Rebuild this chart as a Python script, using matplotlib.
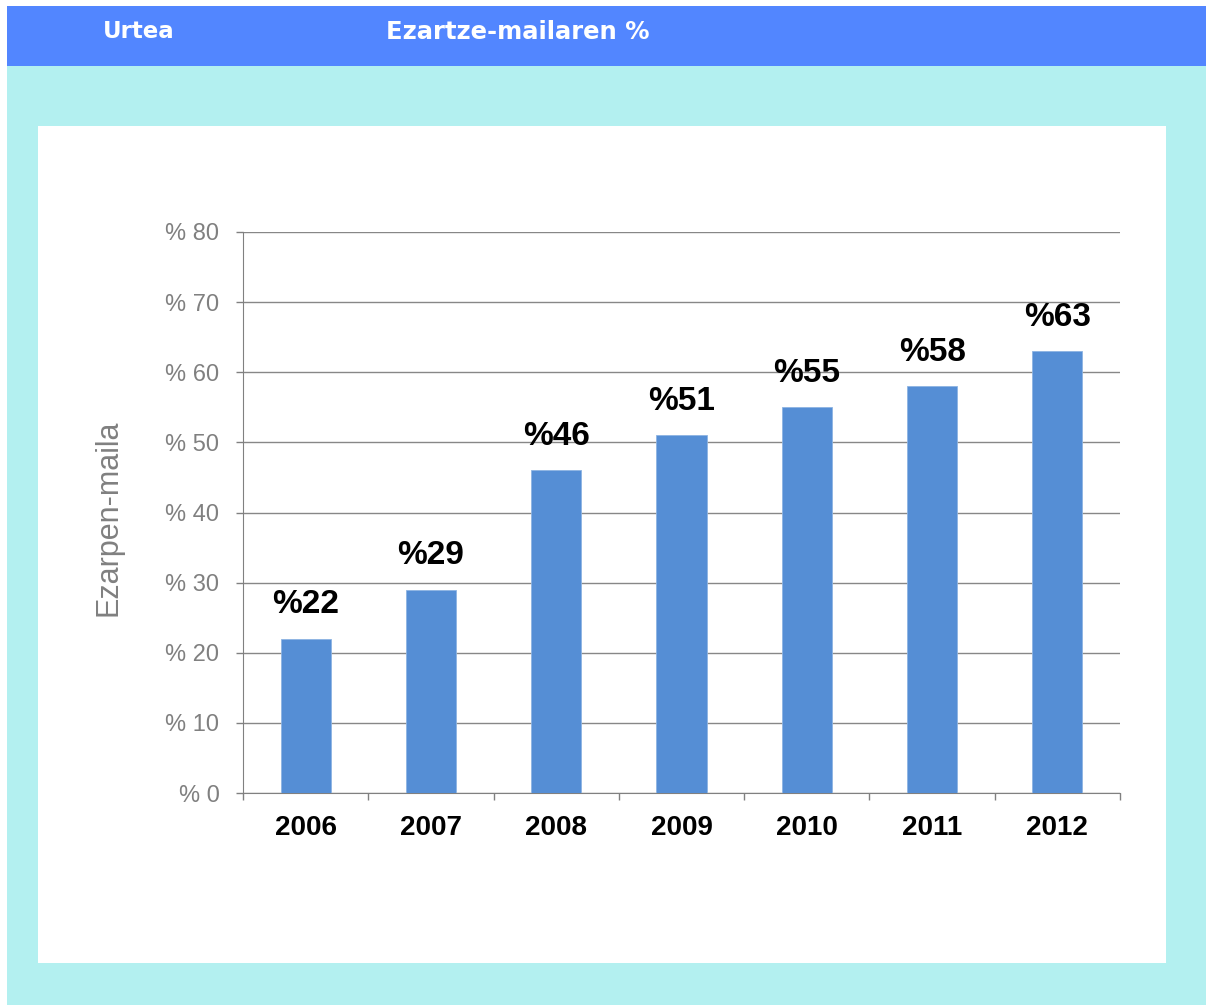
import matplotlib
matplotlib.use("Agg")
import matplotlib.pyplot as plt
from matplotlib.patches import Rectangle

years = ["2006", "2007", "2008", "2009", "2010", "2011", "2012"]
rates = [22, 29, 46, 51, 55, 58, 63]
yticks = [0, 10, 20, 30, 40, 50, 60, 70, 80]
header = ["Urtea", "Ezartze-mailaren %"]

W, H = 1206, 1007
fig = plt.figure(figsize=(W / 100, H / 100), dpi=100)
fig.patch.set_facecolor("white")

def box(x0, y0, x1, y1, color):
    # pixel box (top-left origin) -> figure fraction
    fig.patches.append(Rectangle((x0 / W, 1 - y1 / H), (x1 - x0) / W, (y1 - y0) / H,
                                 transform=fig.transFigure, facecolor=color,
                                 edgecolor="none", zorder=-1))

box(7, 66, 1206, 1005, "#B3F0F0")
box(7, 6, 1206, 66, "#5286FF")
box(38, 126, 1166, 963, "white")

fig.text(103 / W, 1 - 32 / H, header[0], color="white", fontsize=16.5,
         fontweight="bold", family="DejaVu Sans", va="center", ha="left")
fig.text(386 / W, 1 - 32 / H, header[1], color="white", fontsize=17.5,
         fontweight="bold", family="DejaVu Sans", va="center", ha="left")

ax = fig.add_axes([243 / W, 1 - 793 / H, (1120 - 243) / W, (793 - 232) / H])
ax.set_zorder(2)
ax.set_facecolor("white")
x = range(len(years))
ax.bar(x, rates, width=0.4, color="#558ED5", edgecolor="#8DB4E2", linewidth=0.6, zorder=3)
for i, v in zip(x, rates):
    ax.text(i, v + 2.6, "%" + str(v), ha="center", va="bottom", fontsize=24,
            fontweight="bold", family="Liberation Sans", color="black")

ax.set_xlim(-0.5, len(years) - 0.5)
ax.set_ylim(0, 80)
ax.set_yticks(yticks)
ax.set_yticklabels(["% " + str(t) for t in yticks], family="Liberation Sans",
                   fontsize=17, color="#808080")
ax.set_xticks([i - 0.5 for i in range(len(years) + 1)], minor=False)
ax.set_xticklabels([""] * (len(years) + 1))
ax.set_xticks(list(x), minor=True)
ax.set_xticklabels(years, minor=True, family="Liberation Sans", fontsize=20,
                   fontweight="bold", color="black")
ax.tick_params(axis="x", which="major", length=5, color="#808080", width=1)
ax.tick_params(axis="x", which="minor", length=0, pad=16)
ax.tick_params(axis="y", length=5, color="#808080", width=1, pad=12)
ax.yaxis.grid(True, color="#878787", linewidth=1, zorder=0)
ax.set_axisbelow(True)
for s in ["top", "right"]:
    ax.spines[s].set_visible(False)
for s in ["left", "bottom"]:
    ax.spines[s].set_color("#808080")
ax.set_ylabel("Ezarpen-maila", family="Liberation Sans", fontsize=22, color="#808080")
ax.yaxis.set_label_coords((124 - 243) / 877, 0.49)

fig.savefig("out.png", dpi=100, facecolor="white")
